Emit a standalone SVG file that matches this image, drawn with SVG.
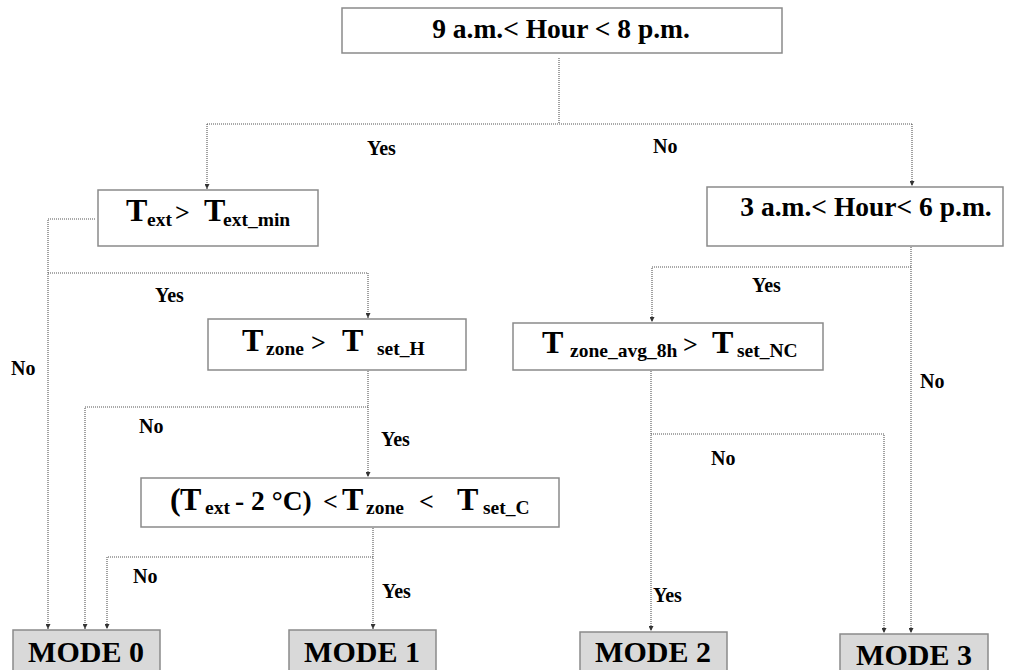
<svg xmlns="http://www.w3.org/2000/svg" width="1019" height="670" viewBox="0 0 1019 670">
  <style>
    .box { fill: #ffffff; stroke: #8a8a8a; stroke-width: 1.5; }
    .mode { fill: #d9d9d9; stroke: #8a8a8a; stroke-width: 1.5; }
    .t { font-family: "Liberation Serif", "Times New Roman", serif; font-weight: bold; fill: #000; }
    .big { font-size: 32px; }
    .sub { font-size: 19.5px; }
    .op { font-size: 26px; }
    .cond { font-size: 27.5px; }
    .lbl { font-family: "Liberation Serif", "Times New Roman", serif; font-weight: bold; font-size: 20px; fill: #000; }
    .modet { font-size: 30px; }
    .link { fill: none; stroke: #555; stroke-width: 1.1; stroke-dasharray: 1 1; }
  </style>
  <defs>
    <marker id="arr" viewBox="0 0 6 6" refX="6" refY="3" markerWidth="5" markerHeight="5" markerUnits="userSpaceOnUse" orient="auto">
      <path d="M0,0 L6,3 L0,6 Z" fill="#333"/>
    </marker>
  </defs>

  <rect width="1019" height="670" fill="#ffffff"/>

  <!-- connectors -->
  <g id="connectors">
    <path class="link" d="M559,58 V124"/>
    <path class="link" d="M207,124 H912"/>
    <path class="link" d="M207,124 V189" marker-end="url(#arr)"/>
    <path class="link" d="M912,124 V186" marker-end="url(#arr)"/>
    <!-- Text > Text_min -->
    <path class="link" d="M95,219 H48 V629" marker-end="url(#arr)"/>
    <path class="link" d="M48,273 H368 V318" marker-end="url(#arr)"/>
    <!-- Tzone > Tset_H -->
    <path class="link" d="M368,371 V477" marker-end="url(#arr)"/>
    <path class="link" d="M368,407 H85 V629" marker-end="url(#arr)"/>
    <!-- (Text - 2 C) < Tzone < Tset_C -->
    <path class="link" d="M373,528 V629" marker-end="url(#arr)"/>
    <path class="link" d="M373,557 H107 V629" marker-end="url(#arr)"/>
    <!-- 3 a.m. < Hour < 6 p.m. -->
    <path class="link" d="M911,247 V633" marker-end="url(#arr)"/>
    <path class="link" d="M911,267 H652 V322" marker-end="url(#arr)"/>
    <!-- Tzone_avg_8h > Tset_NC -->
    <path class="link" d="M651,371 V631" marker-end="url(#arr)"/>
    <path class="link" d="M651,434 H884 V633" marker-end="url(#arr)"/>
  </g>

  <!-- branch labels -->
  <g id="labels">
    <text class="lbl" x="367" y="155">Yes</text>
    <text class="lbl" x="653" y="153">No</text>
    <text class="lbl" x="155" y="302">Yes</text>
    <text class="lbl" x="752" y="292">Yes</text>
    <text class="lbl" x="11" y="375">No</text>
    <text class="lbl" x="920" y="388">No</text>
    <text class="lbl" x="139" y="433">No</text>
    <text class="lbl" x="381" y="446">Yes</text>
    <text class="lbl" x="711" y="465">No</text>
    <text class="lbl" x="133" y="583">No</text>
    <text class="lbl" x="382" y="598">Yes</text>
    <text class="lbl" x="653" y="602">Yes</text>
  </g>

  <g id="n-hour-9-20">
    <rect class="box" x="342" y="8" width="440" height="45"/>
    <text class="t cond" x="561" y="38" text-anchor="middle">9 a.m.&lt; Hour &lt; 8 p.m.</text>
  </g>

  <g id="n-text-min">
    <rect class="box" x="98" y="190" width="220" height="56"/>
    <text class="t">
      <tspan class="big" x="126" y="221">T</tspan><tspan class="sub" x="147" y="226">ext</tspan><tspan class="op" x="175" y="221">&gt;</tspan><tspan class="big" x="204" y="221">T</tspan><tspan class="sub" x="223" y="226">ext_min</tspan>
    </text>
  </g>

  <g id="n-hour-3-18">
    <rect class="box" x="707" y="187" width="296" height="59"/>
    <text class="t cond" x="866" y="216" text-anchor="middle">3 a.m.&lt; Hour&lt; 6 p.m.</text>
  </g>

  <g id="n-tzone-seth">
    <rect class="box" x="208" y="319" width="258" height="51"/>
    <text class="t">
      <tspan class="big" x="242" y="351">T</tspan><tspan class="sub" x="266" y="355">zone</tspan><tspan class="op" x="311" y="351">&gt;</tspan><tspan class="big" x="342" y="351">T</tspan><tspan class="sub" x="377" y="355">set_H</tspan>
    </text>
  </g>

  <g id="n-tzone-avg">
    <rect class="box" x="513" y="323" width="310" height="47"/>
    <text class="t">
      <tspan class="big" x="542" y="353">T</tspan><tspan class="sub" x="570" y="357">zone_avg_8h</tspan><tspan class="op" x="683" y="353">&gt;</tspan><tspan class="big" x="712" y="353">T</tspan><tspan class="sub" x="737" y="357">set_NC</tspan>
    </text>
  </g>

  <g id="n-tzone-setc">
    <rect class="box" x="141" y="478" width="418" height="49"/>
    <text class="t">
      <tspan class="big" x="170" y="510">(</tspan><tspan class="big" x="180" y="510">T</tspan><tspan class="sub" x="205" y="514">ext</tspan><tspan class="cond" x="235" y="510">- 2 °C)</tspan><tspan class="op" x="323" y="510">&lt;</tspan><tspan class="big" x="342" y="510">T</tspan><tspan class="sub" x="366" y="514">zone</tspan><tspan class="op" x="419" y="510">&lt;</tspan><tspan class="big" x="457" y="510">T</tspan><tspan class="sub" x="483" y="514">set_C</tspan>
    </text>
  </g>

  <g id="n-mode0">
    <rect class="mode" x="13" y="630" width="147" height="45"/>
    <text class="t modet" x="86" y="662" text-anchor="middle">MODE 0</text>
  </g>
  <g id="n-mode1">
    <rect class="mode" x="289" y="630" width="147" height="45"/>
    <text class="t modet" x="362" y="662" text-anchor="middle">MODE 1</text>
  </g>
  <g id="n-mode2">
    <rect class="mode" x="580" y="632" width="147" height="45"/>
    <text class="t modet" x="653" y="662" text-anchor="middle">MODE 2</text>
  </g>
  <g id="n-mode3">
    <rect class="mode" x="840" y="634" width="148" height="45"/>
    <text class="t modet" x="914" y="665" text-anchor="middle">MODE 3</text>
  </g>
</svg>
